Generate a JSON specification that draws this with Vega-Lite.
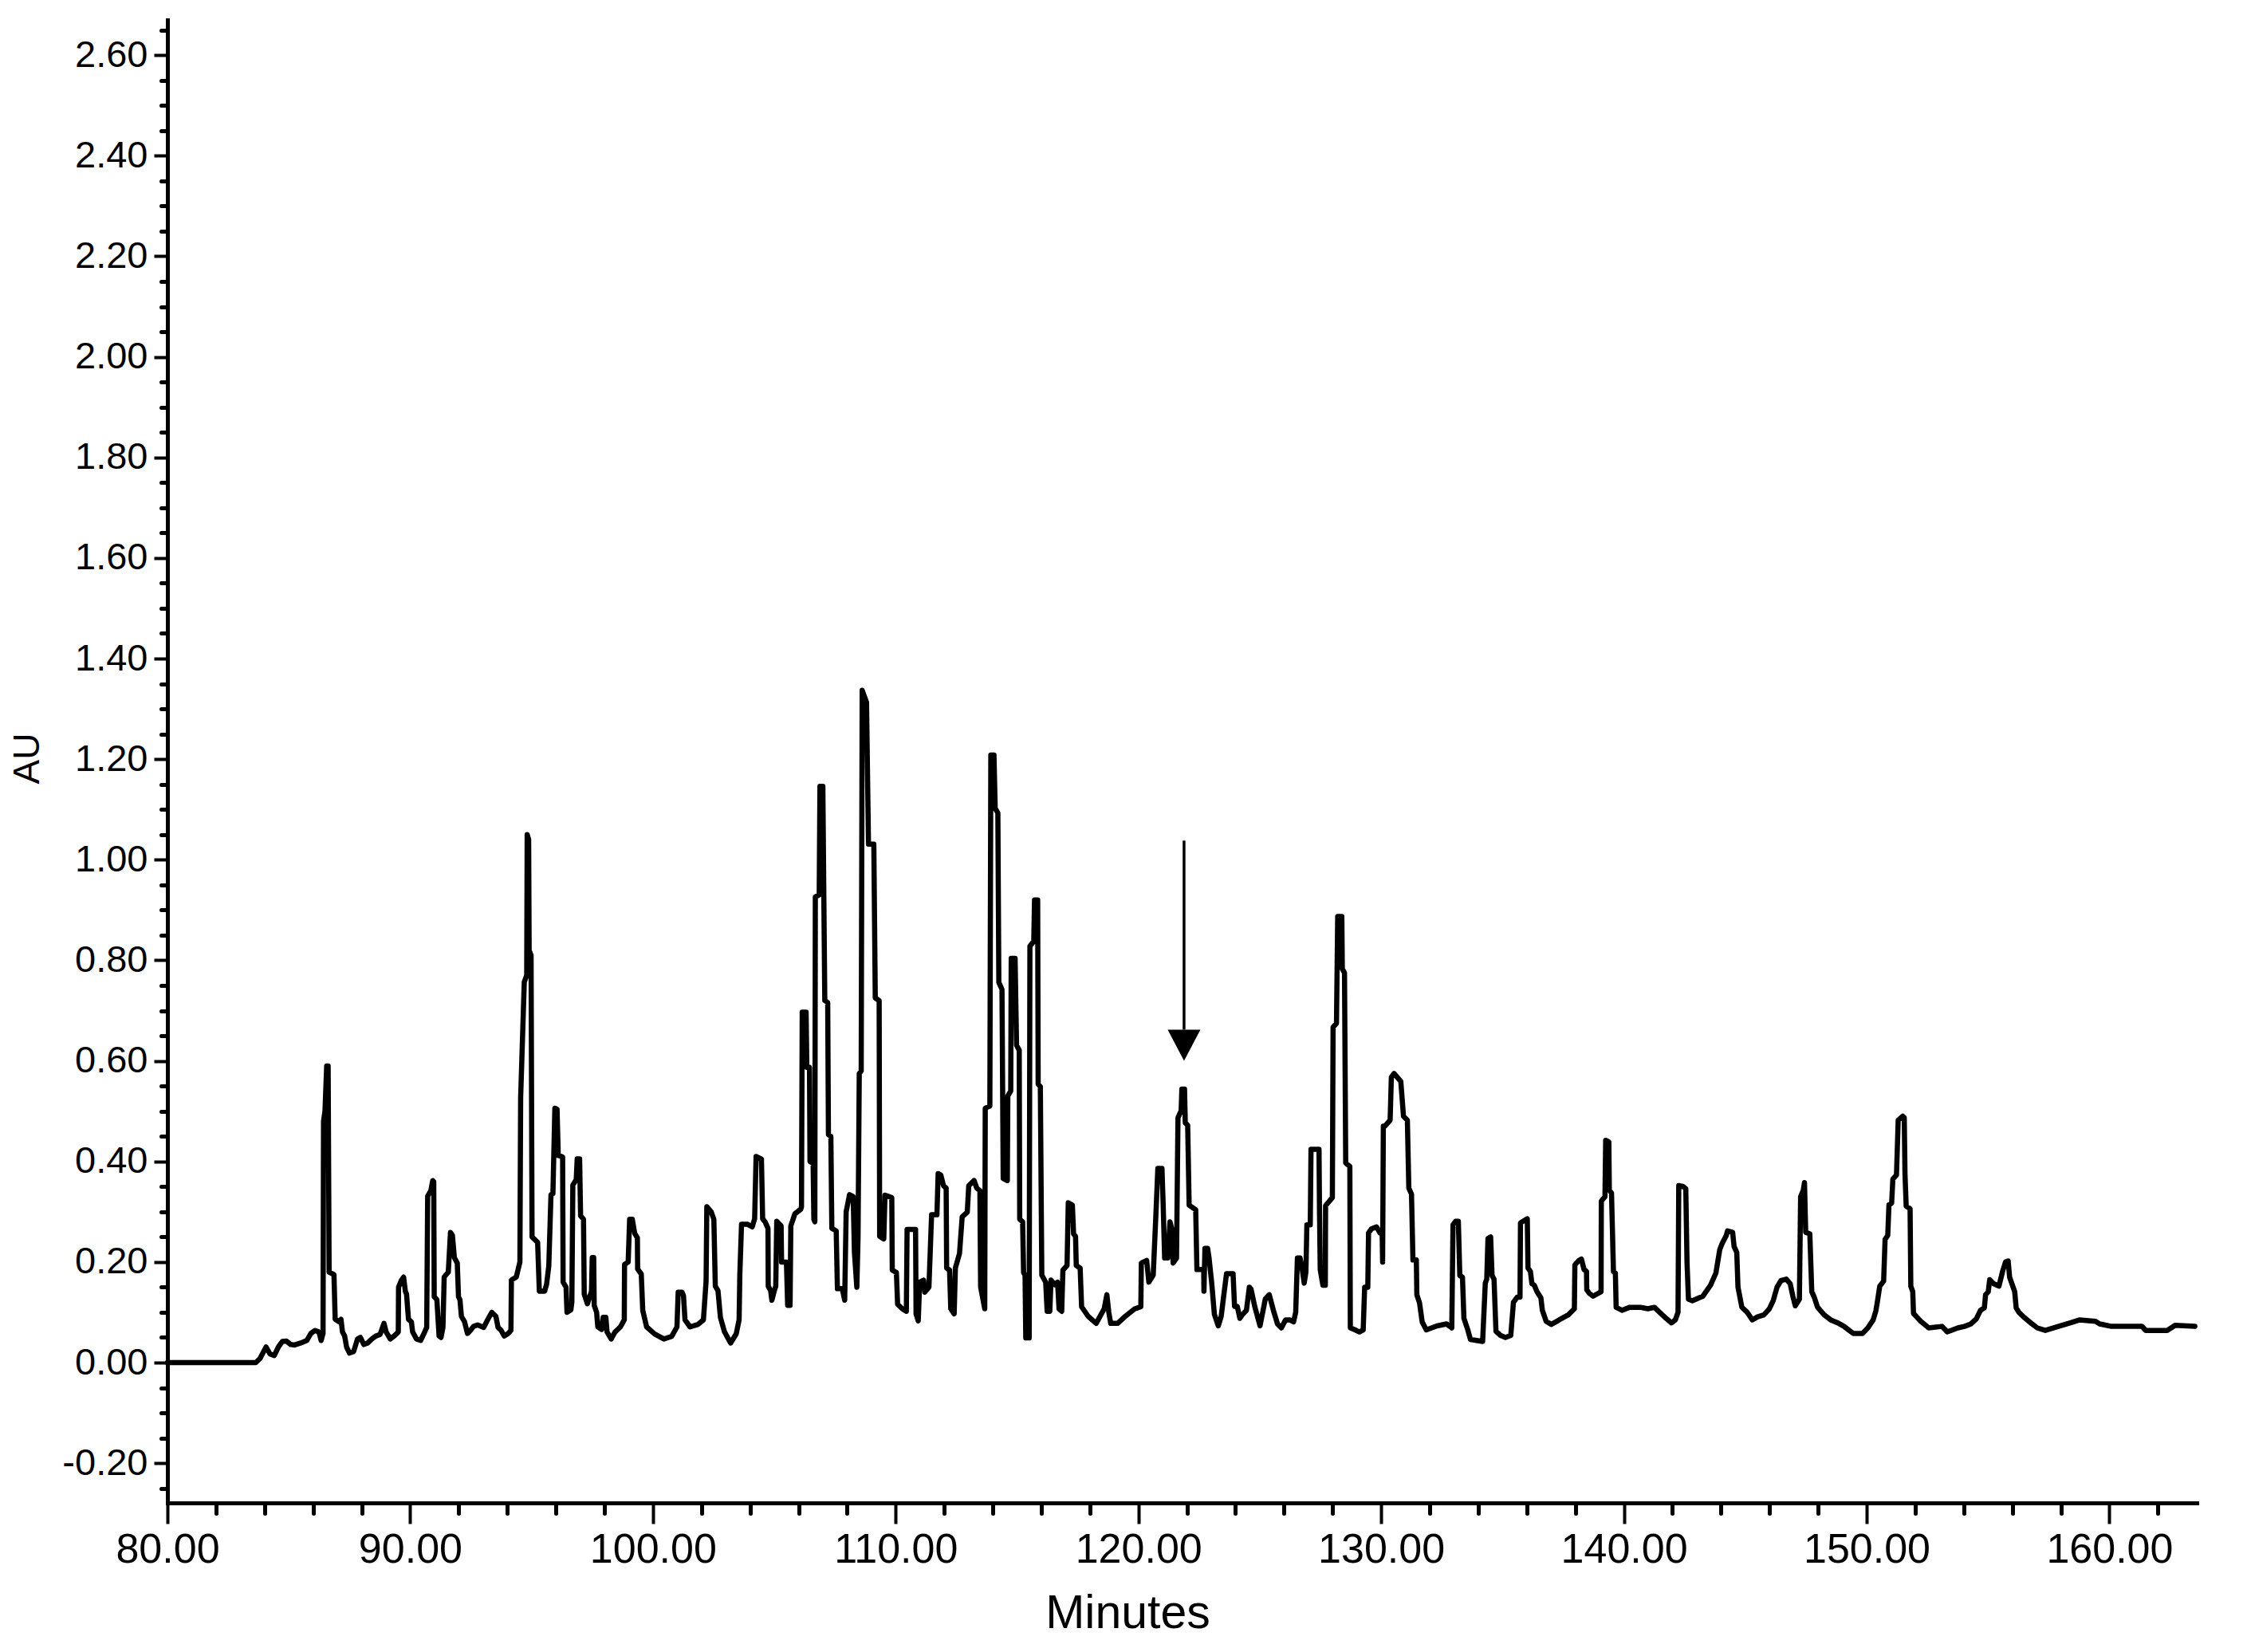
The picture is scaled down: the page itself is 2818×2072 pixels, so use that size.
{
"$schema": "https://vega.github.io/schema/vega-lite/v6.json",
"width": 2545, "height": 1860,
"autosize": {"type": "none"},
"padding": {"left": 210, "top": 25, "right": 63, "bottom": 187},
"background": "white",
"config": {"view": {"stroke": null}, "font": "Liberation Sans"},
"layer": [
{
"data": {"values": [
{"t":80,"au":0},{"t":83.64,"au":0},{"t":83.81,"au":0.008},{"t":84.06,"au":0.031},{"t":84.23,"au":0.017},{"t":84.4,"au":0.014},{"t":84.57,"au":0.031},{"t":84.73,"au":0.042},{"t":84.9,"au":0.043},{"t":85.07,"au":0.036},{"t":85.24,"au":0.035},{"t":85.49,"au":0.039},{"t":85.74,"au":0.044},{"t":85.91,"au":0.058},{"t":86.08,"au":0.064},{"t":86.24,"au":0.061},{"t":86.33,"au":0.044},{"t":86.41,"au":0.058},{"t":86.43,"au":0.48},{"t":86.49,"au":0.5},{"t":86.56,"au":0.59},{"t":86.62,"au":0.59},{"t":86.66,"au":0.18},{"t":86.86,"au":0.175},{"t":86.91,"au":0.086},{"t":87.08,"au":0.081},{"t":87.15,"au":0.086},{"t":87.21,"au":0.061},{"t":87.3,"au":0.053},{"t":87.38,"au":0.031},{"t":87.5,"au":0.019},{"t":87.67,"au":0.022},{"t":87.83,"au":0.047},{"t":87.95,"au":0.05},{"t":88.09,"au":0.036},{"t":88.25,"au":0.039},{"t":88.42,"au":0.047},{"t":88.59,"au":0.053},{"t":88.76,"au":0.056},{"t":88.92,"au":0.078},{"t":89.01,"au":0.061},{"t":89.18,"au":0.047},{"t":89.34,"au":0.053},{"t":89.51,"au":0.061},{"t":89.52,"au":0.15},{"t":89.64,"au":0.164},{"t":89.73,"au":0.17},{"t":89.8,"au":0.142},{"t":89.85,"au":0.136},{"t":89.93,"au":0.086},{"t":90.05,"au":0.081},{"t":90.1,"au":0.061},{"t":90.26,"au":0.047},{"t":90.43,"au":0.044},{"t":90.57,"au":0.058},{"t":90.68,"au":0.07},{"t":90.72,"au":0.331},{"t":90.85,"au":0.342},{"t":90.93,"au":0.362},{"t":90.97,"au":0.36},{"t":90.99,"au":0.131},{"t":91.1,"au":0.125},{"t":91.19,"au":0.053},{"t":91.27,"au":0.05},{"t":91.35,"au":0.07},{"t":91.4,"au":0.17},{"t":91.57,"au":0.18},{"t":91.66,"au":0.259},{"t":91.74,"au":0.253},{"t":91.82,"au":0.209},{"t":91.94,"au":0.198},{"t":91.99,"au":0.131},{"t":92.05,"au":0.125},{"t":92.11,"au":0.092},{"t":92.24,"au":0.081},{"t":92.36,"au":0.058},{"t":92.48,"au":0.064},{"t":92.61,"au":0.072},{"t":92.78,"au":0.075},{"t":93.03,"au":0.07},{"t":93.2,"au":0.086},{"t":93.36,"au":0.1},{"t":93.53,"au":0.092},{"t":93.62,"au":0.07},{"t":93.75,"au":0.064},{"t":93.87,"au":0.053},{"t":94.04,"au":0.058},{"t":94.15,"au":0.064},{"t":94.17,"au":0.164},{"t":94.37,"au":0.17},{"t":94.45,"au":0.186},{"t":94.52,"au":0.2},{"t":94.55,"au":0.526},{"t":94.7,"au":0.757},{"t":94.8,"au":0.77},{"t":94.82,"au":1.05},{"t":94.88,"au":1.04},{"t":94.9,"au":0.82},{"t":94.98,"au":0.81},{"t":95.02,"au":0.25},{"t":95.25,"au":0.239},{"t":95.32,"au":0.142},{"t":95.54,"au":0.142},{"t":95.62,"au":0.156},{"t":95.71,"au":0.192},{"t":95.8,"au":0.334},{"t":95.88,"au":0.336},{"t":95.96,"au":0.506},{"t":96.05,"au":0.504},{"t":96.1,"au":0.412},{"t":96.28,"au":0.409},{"t":96.3,"au":0.16},{"t":96.42,"au":0.15},{"t":96.46,"au":0.1},{"t":96.62,"au":0.105},{"t":96.66,"au":0.12},{"t":96.7,"au":0.353},{"t":96.84,"au":0.364},{"t":96.88,"au":0.405},{"t":96.98,"au":0.405},{"t":97.02,"au":0.292},{"t":97.14,"au":0.285},{"t":97.17,"au":0.136},{"t":97.3,"au":0.117},{"t":97.47,"au":0.142},{"t":97.5,"au":0.209},{"t":97.56,"au":0.209},{"t":97.58,"au":0.114},{"t":97.68,"au":0.1},{"t":97.73,"au":0.071},{"t":97.89,"au":0.066},{"t":97.95,"au":0.09},{"t":98.06,"au":0.09},{"t":98.11,"au":0.061},{"t":98.28,"au":0.047},{"t":98.44,"au":0.061},{"t":98.66,"au":0.071},{"t":98.82,"au":0.085},{"t":98.83,"au":0.195},{"t":98.98,"au":0.2},{"t":99.04,"au":0.285},{"t":99.15,"au":0.285},{"t":99.25,"au":0.257},{"t":99.36,"au":0.248},{"t":99.37,"au":0.186},{"t":99.52,"au":0.176},{"t":99.58,"au":0.104},{"t":99.74,"au":0.071},{"t":100.07,"au":0.057},{"t":100.45,"au":0.047},{"t":100.77,"au":0.052},{"t":100.99,"au":0.071},{"t":101.04,"au":0.14},{"t":101.2,"au":0.14},{"t":101.26,"au":0.133},{"t":101.32,"au":0.085},{"t":101.53,"au":0.071},{"t":101.86,"au":0.076},{"t":102.08,"au":0.085},{"t":102.19,"au":0.162},{"t":102.22,"au":0.31},{"t":102.4,"au":0.3},{"t":102.51,"au":0.285},{"t":102.57,"au":0.152},{"t":102.68,"au":0.143},{"t":102.78,"au":0.09},{"t":102.95,"au":0.061},{"t":103.2,"au":0.039},{"t":103.43,"au":0.057},{"t":103.55,"au":0.085},{"t":103.58,"au":0.175},{"t":103.65,"au":0.275},{"t":103.9,"au":0.275},{"t":104.09,"au":0.27},{"t":104.19,"au":0.286},{"t":104.25,"au":0.41},{"t":104.47,"au":0.405},{"t":104.52,"au":0.286},{"t":104.62,"au":0.28},{"t":104.74,"au":0.267},{"t":104.75,"au":0.152},{"t":104.85,"au":0.143},{"t":104.9,"au":0.124},{"t":105,"au":0.143},{"t":105.06,"au":0.152},{"t":105.1,"au":0.281},{"t":105.28,"au":0.272},{"t":105.3,"au":0.2},{"t":105.5,"au":0.2},{"t":105.55,"au":0.114},{"t":105.65,"au":0.114},{"t":105.68,"au":0.272},{"t":105.85,"au":0.296},{"t":106.09,"au":0.305},{"t":106.12,"au":0.31},{"t":106.15,"au":0.697},{"t":106.31,"au":0.697},{"t":106.34,"au":0.587},{"t":106.45,"au":0.587},{"t":106.47,"au":0.4},{"t":106.6,"au":0.396},{"t":106.63,"au":0.285},{"t":106.67,"au":0.28},{"t":106.69,"au":0.926},{"t":106.85,"au":0.93},{"t":106.88,"au":1.146},{"t":107,"au":1.146},{"t":107.04,"au":0.93},{"t":107.08,"au":0.72},{"t":107.2,"au":0.716},{"t":107.23,"au":0.453},{"t":107.33,"au":0.45},{"t":107.37,"au":0.267},{"t":107.55,"au":0.262},{"t":107.6,"au":0.147},{"t":107.8,"au":0.147},{"t":107.9,"au":0.124},{"t":107.96,"au":0.3},{"t":108.1,"au":0.334},{"t":108.25,"au":0.33},{"t":108.3,"au":0.22},{"t":108.4,"au":0.15},{"t":108.45,"au":0.25},{"t":108.5,"au":0.575},{"t":108.58,"au":0.58},{"t":108.62,"au":1.337},{"t":108.8,"au":1.313},{"t":108.88,"au":1.031},{"t":109.1,"au":1.031},{"t":109.16,"au":0.725},{"t":109.32,"au":0.72},{"t":109.34,"au":0.251},{"t":109.51,"au":0.246},{"t":109.56,"au":0.333},{"t":109.84,"au":0.328},{"t":109.86,"au":0.184},{"t":110.03,"au":0.179},{"t":110.08,"au":0.116},{"t":110.27,"au":0.107},{"t":110.44,"au":0.102},{"t":110.47,"au":0.265},{"t":110.82,"au":0.265},{"t":110.84,"au":0.097},{"t":110.93,"au":0.083},{"t":110.99,"au":0.16},{"t":111.15,"au":0.164},{"t":111.2,"au":0.14},{"t":111.37,"au":0.15},{"t":111.48,"au":0.294},{"t":111.7,"au":0.294},{"t":111.75,"au":0.376},{"t":111.86,"au":0.373},{"t":111.97,"au":0.352},{"t":112.08,"au":0.347},{"t":112.1,"au":0.188},{"t":112.22,"au":0.184},{"t":112.27,"au":0.107},{"t":112.41,"au":0.097},{"t":112.46,"au":0.188},{"t":112.63,"au":0.217},{"t":112.74,"au":0.29},{"t":112.95,"au":0.299},{"t":113.01,"au":0.352},{"t":113.23,"au":0.362},{"t":113.34,"au":0.347},{"t":113.47,"au":0.342},{"t":113.5,"au":0.15},{"t":113.67,"au":0.107},{"t":113.69,"au":0.506},{"t":113.88,"au":0.51},{"t":113.92,"au":1.208},{"t":114.05,"au":1.208},{"t":114.1,"au":1.102},{"t":114.21,"au":1.093},{"t":114.25,"au":0.756},{"t":114.38,"au":0.742},{"t":114.43,"au":0.366},{"t":114.6,"au":0.362},{"t":114.62,"au":0.53},{"t":114.74,"au":0.54},{"t":114.76,"au":0.804},{"t":114.92,"au":0.804},{"t":114.98,"au":0.631},{"t":115.09,"au":0.621},{"t":115.11,"au":0.285},{"t":115.23,"au":0.28},{"t":115.27,"au":0.179},{"t":115.33,"au":0.174},{"t":115.36,"au":0.049},{"t":115.5,"au":0.049},{"t":115.53,"au":0.828},{"t":115.69,"au":0.838},{"t":115.72,"au":0.92},{"t":115.85,"au":0.92},{"t":115.87,"au":0.554},{"t":115.96,"au":0.549},{"t":116.02,"au":0.174},{"t":116.18,"au":0.16},{"t":116.24,"au":0.102},{"t":116.35,"au":0.102},{"t":116.4,"au":0.164},{"t":116.56,"au":0.155},{"t":116.67,"au":0.16},{"t":116.73,"au":0.107},{"t":116.84,"au":0.102},{"t":116.89,"au":0.184},{"t":117.06,"au":0.193},{"t":117.11,"au":0.318},{"t":117.28,"au":0.313},{"t":117.33,"au":0.256},{"t":117.41,"au":0.251},{"t":117.44,"au":0.193},{"t":117.6,"au":0.188},{"t":117.66,"au":0.111},{"t":117.93,"au":0.092},{"t":118.26,"au":0.078},{"t":118.59,"au":0.107},{"t":118.7,"au":0.135},{"t":118.78,"au":0.1},{"t":118.86,"au":0.078},{"t":119.14,"au":0.078},{"t":119.46,"au":0.092},{"t":119.85,"au":0.107},{"t":120.1,"au":0.111},{"t":120.12,"au":0.198},{"t":120.34,"au":0.203},{"t":120.43,"au":0.16},{"t":120.61,"au":0.174},{"t":120.72,"au":0.294},{"t":120.8,"au":0.386},{"t":120.97,"au":0.386},{"t":121.02,"au":0.314},{"t":121.08,"au":0.208},{"t":121.21,"au":0.208},{"t":121.3,"au":0.28},{"t":121.38,"au":0.265},{"t":121.43,"au":0.198},{"t":121.57,"au":0.208},{"t":121.63,"au":0.487},{"t":121.76,"au":0.501},{"t":121.79,"au":0.544},{"t":121.9,"au":0.544},{"t":121.93,"au":0.477},{"t":122.03,"au":0.472},{"t":122.09,"au":0.313},{"t":122.36,"au":0.304},{"t":122.41,"au":0.185},{"t":122.69,"au":0.185},{"t":122.7,"au":0.142},{"t":122.74,"au":0.227},{"t":122.85,"au":0.227},{"t":122.91,"au":0.208},{"t":123.02,"au":0.158},{"t":123.13,"au":0.096},{"t":123.29,"au":0.073},{"t":123.41,"au":0.092},{"t":123.52,"au":0.135},{"t":123.63,"au":0.177},{"t":123.9,"au":0.177},{"t":123.96,"au":0.112},{"t":124.07,"au":0.112},{"t":124.18,"au":0.088},{"t":124.29,"au":0.096},{"t":124.45,"au":0.104},{"t":124.57,"au":0.15},{"t":124.64,"au":0.146},{"t":124.79,"au":0.112},{"t":125.01,"au":0.073},{"t":125.23,"au":0.127},{"t":125.39,"au":0.135},{"t":125.56,"au":0.104},{"t":125.73,"au":0.077},{"t":125.89,"au":0.069},{"t":126.06,"au":0.085},{"t":126.23,"au":0.085},{"t":126.39,"au":0.081},{"t":126.48,"au":0.1},{"t":126.55,"au":0.208},{"t":126.66,"au":0.208},{"t":126.75,"au":0.185},{"t":126.83,"au":0.158},{"t":126.9,"au":0.18},{"t":126.94,"au":0.274},{"t":127.08,"au":0.274},{"t":127.11,"au":0.424},{"t":127.44,"au":0.424},{"t":127.46,"au":0.304},{"t":127.49,"au":0.185},{"t":127.6,"au":0.154},{"t":127.7,"au":0.154},{"t":127.71,"au":0.312},{"t":127.85,"au":0.32},{"t":127.99,"au":0.328},{"t":128.02,"au":0.667},{"t":128.16,"au":0.675},{"t":128.21,"au":0.887},{"t":128.38,"au":0.887},{"t":128.4,"au":0.783},{"t":128.49,"au":0.775},{"t":128.54,"au":0.397},{"t":128.71,"au":0.39},{"t":128.73,"au":0.069},{"t":128.93,"au":0.065},{"t":129.1,"au":0.061},{"t":129.26,"au":0.065},{"t":129.32,"au":0.15},{"t":129.45,"au":0.15},{"t":129.48,"au":0.258},{"t":129.6,"au":0.266},{"t":129.81,"au":0.27},{"t":129.95,"au":0.258},{"t":130.04,"au":0.262},{"t":130.06,"au":0.2},{"t":130.09,"au":0.47},{"t":130.15,"au":0.47},{"t":130.37,"au":0.482},{"t":130.42,"au":0.567},{"t":130.53,"au":0.575},{"t":130.81,"au":0.559},{"t":130.92,"au":0.49},{"t":131.08,"au":0.482},{"t":131.14,"au":0.347},{"t":131.25,"au":0.335},{"t":131.31,"au":0.204},{"t":131.45,"au":0.204},{"t":131.47,"au":0.135},{"t":131.58,"au":0.119},{"t":131.69,"au":0.081},{"t":131.86,"au":0.065},{"t":132.3,"au":0.073},{"t":132.69,"au":0.077},{"t":132.91,"au":0.069},{"t":132.96,"au":0.274},{"t":133.07,"au":0.281},{"t":133.18,"au":0.281},{"t":133.24,"au":0.173},{"t":133.35,"au":0.17},{"t":133.41,"au":0.088},{"t":133.57,"au":0.065},{"t":133.68,"au":0.046},{"t":134.18,"au":0.042},{"t":134.29,"au":0.158},{"t":134.35,"au":0.166},{"t":134.4,"au":0.247},{"t":134.51,"au":0.25},{"t":134.57,"au":0.173},{"t":134.65,"au":0.166},{"t":134.73,"au":0.062},{"t":134.92,"au":0.054},{"t":135.12,"au":0.05},{"t":135.34,"au":0.054},{"t":135.45,"au":0.12},{"t":135.6,"au":0.13},{"t":135.72,"au":0.13},{"t":135.74,"au":0.278},{"t":136.02,"au":0.286},{"t":136.05,"au":0.188},{"t":136.15,"au":0.181},{"t":136.21,"au":0.157},{"t":136.31,"au":0.154},{"t":136.42,"au":0.141},{"t":136.58,"au":0.129},{"t":136.64,"au":0.104},{"t":136.8,"au":0.082},{"t":137.01,"au":0.076},{"t":137.23,"au":0.082},{"t":137.44,"au":0.088},{"t":137.71,"au":0.095},{"t":137.96,"au":0.107},{"t":137.98,"au":0.194},{"t":138.14,"au":0.203},{"t":138.25,"au":0.206},{"t":138.36,"au":0.185},{"t":138.46,"au":0.181},{"t":138.47,"au":0.145},{"t":138.57,"au":0.138},{"t":138.73,"au":0.132},{"t":138.95,"au":0.138},{"t":139.06,"au":0.141},{"t":139.07,"au":0.321},{"t":139.22,"au":0.33},{"t":139.25,"au":0.442},{"t":139.38,"au":0.439},{"t":139.4,"au":0.343},{"t":139.49,"au":0.337},{"t":139.57,"au":0.181},{"t":139.65,"au":0.178},{"t":139.68,"au":0.11},{"t":139.92,"au":0.104},{"t":140.24,"au":0.11},{"t":140.67,"au":0.11},{"t":140.99,"au":0.107},{"t":141.26,"au":0.11},{"t":141.47,"au":0.1},{"t":141.74,"au":0.088},{"t":141.96,"au":0.079},{"t":142.12,"au":0.085},{"t":142.23,"au":0.1},{"t":142.26,"au":0.352},{"t":142.44,"au":0.35},{"t":142.55,"au":0.346},{"t":142.6,"au":0.2},{"t":142.66,"au":0.126},{"t":142.82,"au":0.123},{"t":143.25,"au":0.132},{"t":143.57,"au":0.154},{"t":143.79,"au":0.178},{"t":143.95,"au":0.225},{"t":144.05,"au":0.237},{"t":144.22,"au":0.253},{"t":144.27,"au":0.262},{"t":144.48,"au":0.259},{"t":144.54,"au":0.231},{"t":144.65,"au":0.219},{"t":144.7,"au":0.15},{"t":144.86,"au":0.11},{"t":145.08,"au":0.1},{"t":145.29,"au":0.085},{"t":145.51,"au":0.091},{"t":145.77,"au":0.095},{"t":145.99,"au":0.107},{"t":146.15,"au":0.123},{"t":146.31,"au":0.15},{"t":146.47,"au":0.163},{"t":146.69,"au":0.166},{"t":146.85,"au":0.157},{"t":146.96,"au":0.132},{"t":147.06,"au":0.113},{"t":147.23,"au":0.126},{"t":147.28,"au":0.33},{"t":147.39,"au":0.343},{"t":147.44,"au":0.358},{"t":147.49,"au":0.259},{"t":147.66,"au":0.256},{"t":147.74,"au":0.141},{"t":147.85,"au":0.129},{"t":147.98,"au":0.11},{"t":148.25,"au":0.095},{"t":148.52,"au":0.085},{"t":148.85,"au":0.078},{"t":149.07,"au":0.072},{"t":149.28,"au":0.064},{"t":149.45,"au":0.058},{"t":149.83,"au":0.058},{"t":150.05,"au":0.069},{"t":150.27,"au":0.085},{"t":150.38,"au":0.103},{"t":150.43,"au":0.117},{"t":150.54,"au":0.152},{"t":150.7,"au":0.162},{"t":150.76,"au":0.245},{"t":150.87,"au":0.253},{"t":150.92,"au":0.314},{"t":151.03,"au":0.317},{"t":151.08,"au":0.365},{"t":151.23,"au":0.373},{"t":151.3,"au":0.482},{"t":151.49,"au":0.49},{"t":151.55,"au":0.487},{"t":151.58,"au":0.375},{"t":151.63,"au":0.311},{"t":151.79,"au":0.306},{"t":151.82,"au":0.152},{"t":151.9,"au":0.141},{"t":151.93,"au":0.098},{"t":152.23,"au":0.082},{"t":152.56,"au":0.069},{"t":153.1,"au":0.072},{"t":153.32,"au":0.061},{"t":153.76,"au":0.069},{"t":154.03,"au":0.072},{"t":154.3,"au":0.077},{"t":154.52,"au":0.087},{"t":154.69,"au":0.104},{"t":154.85,"au":0.109},{"t":154.9,"au":0.135},{"t":155.01,"au":0.141},{"t":155.07,"au":0.165},{"t":155.23,"au":0.157},{"t":155.45,"au":0.152},{"t":155.61,"au":0.183},{"t":155.72,"au":0.2},{"t":155.83,"au":0.202},{"t":155.89,"au":0.17},{"t":156.1,"au":0.141},{"t":156.16,"au":0.109},{"t":156.27,"au":0.1},{"t":156.49,"au":0.09},{"t":156.81,"au":0.077},{"t":157.03,"au":0.069},{"t":157.36,"au":0.064},{"t":157.9,"au":0.072},{"t":158.45,"au":0.08},{"t":158.78,"au":0.085},{"t":159.43,"au":0.082},{"t":159.6,"au":0.077},{"t":160.09,"au":0.072},{"t":161.34,"au":0.072},{"t":161.5,"au":0.064},{"t":162.38,"au":0.064},{"t":162.71,"au":0.074},{"t":163.52,"au":0.072}
]},
"mark": {"type": "line", "color": "black", "strokeWidth": 6.5, "strokeJoin": "round", "strokeCap": "round"},
"encoding": {
"x": {"field": "t", "type": "quantitative",
 "scale": {"domain": [80, 163.6], "nice": false, "zero": false},
 "axis": {"orient": "bottom", "values": [80, 90, 100, 110, 120, 130, 140, 150, 160], "format": ".2f",
  "labelFont": "Liberation Sans", "labelFontSize": 52, "labelColor": "black", "labelPadding": 7, "labelFlush": false, "labelOverlap": false, "labelBound": false,
  "tickSize": 26, "tickWidth": 4, "tickColor": "black", "domainWidth": 5, "domainColor": "black", "domainCap": "square", "grid": false,
  "title": "Minutes", "titleFont": "Liberation Sans", "titleFontSize": 59, "titleFontWeight": "normal", "titleColor": "black",
  "titleX": 1204, "titleY": 156, "titleBaseline": "alphabetic", "titleAlign": "center", "titleAnchor": null}},
"y": {"field": "au", "type": "quantitative",
 "scale": {"domain": [-0.279, 2.67], "nice": false, "zero": false},
 "axis": {"orient": "left", "values": [-0.2, 0, 0.2, 0.4, 0.6, 0.8, 1.0, 1.2, 1.4, 1.6, 1.8, 2.0, 2.2, 2.4, 2.6],
  "labelExpr": "datum.value < 0 ? '-' + format(-datum.value, '.2f') : format(datum.value, '.2f')",
  "labelFont": "Liberation Sans", "labelFontSize": 47, "labelColor": "black", "labelPadding": 8, "labelFlush": false, "labelOverlap": false, "labelBound": false,
  "tickSize": 17, "tickWidth": 4, "tickColor": "black", "domainWidth": 5, "domainColor": "black", "domainCap": "square", "grid": false,
  "title": "AU", "titleFont": "Liberation Sans", "titleFontSize": 46, "titleFontWeight": "normal", "titleColor": "black",
  "titleAngle": 270, "titleX": -162, "titleY": 926, "titleBaseline": "alphabetic", "titleAlign": "center", "titleAnchor": null}}
}
},
{
"data": {"values": [{"t": 121.88, "top": 1.038, "bottom": 0.662}]},
"mark": {"type": "rule", "color": "black", "strokeWidth": 3.5},
"encoding": {
"x": {"field": "t", "type": "quantitative",
 "axis": {"orient": "bottom", "title": null, "labels": false, "domain": false, "grid": false,
  "values": [82, 84, 86, 88, 92, 94, 96, 98, 102, 104, 106, 108, 112, 114, 116, 118, 122, 124, 126, 128, 132, 134, 136, 138, 142, 144, 146, 148, 152, 154, 156, 158, 162],
  "tickSize": 13, "tickWidth": 5, "tickColor": "black", "tickCap": "round"}},
"y": {"field": "top", "type": "quantitative",
 "axis": {"orient": "left", "title": null, "labels": false, "domain": false, "grid": false,
  "values": [-0.25, -0.15, -0.1, -0.05, 0.05, 0.1, 0.15, 0.25, 0.3, 0.35, 0.45, 0.5, 0.55, 0.65, 0.7, 0.75, 0.85, 0.9, 0.95, 1.05, 1.1, 1.15, 1.25, 1.3, 1.35, 1.45, 1.5, 1.55, 1.65, 1.7, 1.75, 1.85, 1.9, 1.95, 2.05, 2.1, 2.15, 2.25, 2.3, 2.35, 2.45, 2.5, 2.55, 2.65],
  "tickSize": 8, "tickWidth": 5, "tickColor": "black", "tickCap": "round"}},
"y2": {"field": "bottom"}
}
},
{
"data": {"values": [{"t": 121.88, "au": 0.631}]},
"mark": {"type": "point", "shape": "M-1,-0.95L1,-0.95L0,0.95Z", "size": 1681, "filled": true, "color": "black", "opacity": 1, "strokeWidth": 0},
"encoding": {
"x": {"field": "t", "type": "quantitative", "axis": null},
"y": {"field": "au", "type": "quantitative", "axis": null}
}
}
],
"resolve": {"axis": {"x": "independent", "y": "independent"}}
}
